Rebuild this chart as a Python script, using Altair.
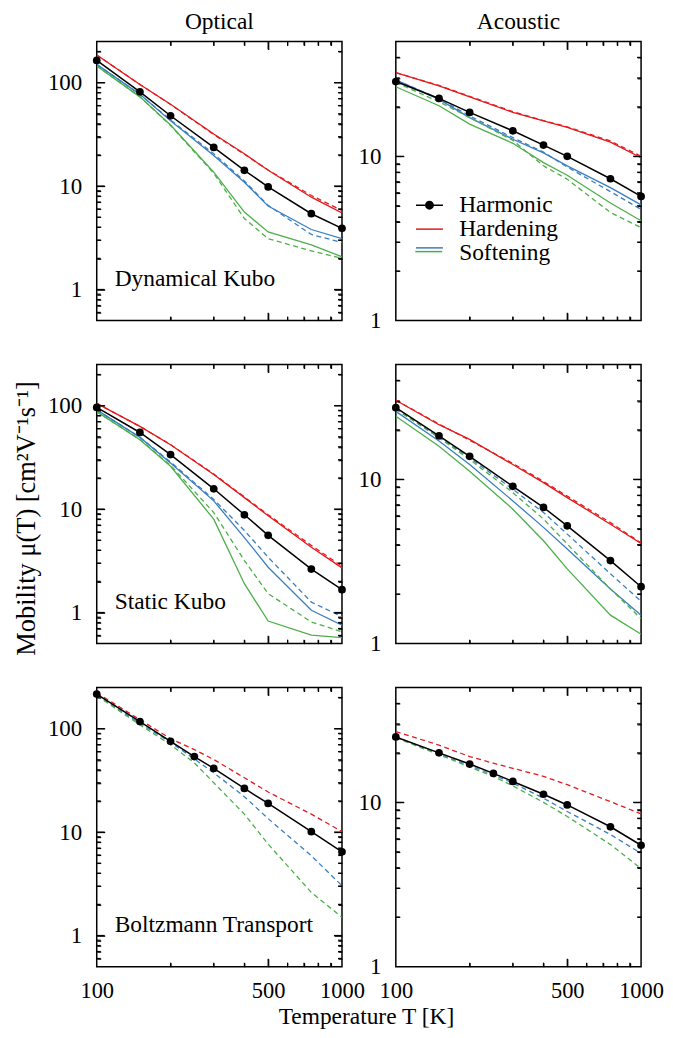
import altair as alt
import pandas as pd

FONT = "Liberation Serif"

T8 = [100, 150, 200, 300, 400, 500, 750, 1000]
T9 = [100, 150, 200, 250, 300, 400, 500, 750, 1000]

od_harm = [164, 81.4, 47.8, 23.6, 14.2, 9.8, 5.4, 3.9]
od_hard = [185, 96, 61.8, 31.8, 20.5, 14.2, 7.8, 5.5]
od_hard_d = [185, 96, 61.5, 31.5, 20.3, 14.3, 8.1, 5.8]
od_soft = [150, 77, 42.8, 19.7, 10.9, 6.4, 3.8, 3.1]
od_soft_d = [150, 77, 43.5, 20.5, 11.2, 6.5, 3.4, 2.85]
od_soft2 = [145, 72.8, 38.9, 13.6, 5.6, 3.6, 2.7, 2.07]
od_soft2_d = [145, 72.8, 38.5, 13.3, 4.85, 3.1, 2.36, 2.0]

ad_harm = [28.5, 22.5, 18.5, 14.3, 11.7, 10.0, 7.3, 5.7]
ad_hard = [32.3, 26.8, 23.0, 18.5, 16.4, 15.0, 12.2, 9.8]
ad_hard_d = [32.3, 27.0, 23.2, 18.7, 16.5, 15.1, 12.4, 10.0]
ad_soft = [29.2, 22.2, 17.2, 12.7, 10.5, 8.75, 6.45, 5.06]
ad_soft_d = [29.2, 22.4, 17.6, 13.0, 10.6, 8.6, 6.1, 4.75]
ad_soft2 = [26.5, 20.3, 15.7, 12.0, 9.15, 7.67, 5.2, 4.05]
ad_soft2_d = [28.1, 21.5, 17.2, 12.5, 8.75, 7.25, 4.55, 3.68]

os_harm = [96, 55, 33.6, 15.7, 8.8, 5.57, 2.63, 1.66]
os_hard = [105, 63, 41.9, 21.6, 12.9, 8.6, 4.27, 2.7]
os_hard_d = [105, 63, 42.0, 21.8, 13.1, 8.8, 4.45, 2.8]
os_soft = [90.9, 49.3, 27.9, 12.0, 5.3, 2.74, 1.05, 0.755]
os_soft_d = [90.9, 49.5, 28.5, 12.4, 6.2, 3.42, 1.26, 0.91]
os_soft2 = [87.5, 46.8, 25.9, 7.98, 1.9, 0.826, 0.605, 0.571]
os_soft2_d = [87.5, 47.0, 26.5, 9.25, 3.18, 1.52, 0.81, 0.65]

as_harm = [27.3, 18.4, 13.8, 9.07, 6.74, 5.21, 3.2, 2.22]
as_hard = [30.3, 21.5, 17.5, 12.3, 9.55, 7.74, 5.33, 4.07]
as_hard_d = [30.3, 21.7, 17.3, 12.5, 9.7, 7.9, 5.45, 4.1]
as_soft = [25.9, 17.1, 12.3, 7.39, 5.1, 3.77, 2.15, 1.49]
as_soft_d = [26.8, 18.0, 13.5, 8.7, 6.28, 4.64, 2.66, 1.81]
as_soft2 = [24.2, 15.9, 11.2, 6.58, 4.23, 2.85, 1.49, 1.14]
as_soft2_d = [26.8, 17.9, 13.2, 8.3, 5.73, 4.04, 2.15, 1.42]

ob_harm = [216, 117, 75.5, 53.7, 41.2, 26.4, 18.9, 10.1, 6.44]
ob_hard_d = [222, 122, 80, 62.8, 50.3, 33.5, 24.4, 14.9, 10.1]
ob_soft_d = [212, 112, 73.8, 51, 37.4, 22, 13.5, 5.9, 3.03]
ob_soft2_d = [208, 109, 70, 46.7, 30, 14.9, 7.64, 2.61, 1.5]

ab_harm = [25.0, 20.0, 17.1, 15.0, 13.4, 11.2, 9.64, 7.1, 5.48]
ab_hard_d = [26.9, 22.3, 19.0, 17.3, 16.1, 14.4, 12.8, 10.1, 8.5]
ab_soft_d = [25.0, 19.7, 16.7, 14.7, 13.1, 10.6, 8.8, 6.37, 4.89]
ab_soft2_d = [24.7, 19.5, 16.4, 14.4, 12.6, 10.0, 8.2, 5.54, 3.95]

SERIES = ["Harmonic", "Hardening", "Softening"]
COLORS = ["#000000", "#e41a1c", "#3a7ec2"]
GREEN = "#4daf4a"

X_MAJOR = [500]
X_MINOR = [200, 300, 400, 600, 700, 800, 900]
X_LABELS = [100, 500, 1000]
YL_DOMAIN = [0.5, 250]
YL_MAJOR = [1, 10, 100]
YL_MINOR = [0.6, 0.7, 0.8, 0.9, 2, 3, 4, 5, 6, 7, 8, 9, 20, 30, 40, 50, 60, 70, 80, 90, 200]
YR_DOMAIN = [1, 50]
YR_MAJOR = [10]
YR_MINOR = [2, 3, 4, 5, 6, 7, 8, 9, 20, 30, 40]
YR_LABELS = [1, 10]

W, H = 246, 280
MAJ, MIN = 8, 4


def long_df(T, d):
    rows = []
    for s, vals in d.items():
        for t, v in zip(T, vals):
            rows.append({"T": t, "mu": v, "series": s})
    return pd.DataFrame(rows)


P_H = ("M-1.35,0H1.35"
       "M0.37,0A0.37,0.37,0,1,1,-0.37,0A0.37,0.37,0,1,1,0.37,0"
       "M0.24,0A0.24,0.24,0,1,1,-0.24,0A0.24,0.24,0,1,1,0.24,0"
       "M0.11,0A0.11,0.11,0,1,1,-0.11,0A0.11,0.11,0,1,1,0.11,0")
SYM_EXPR = ("datum.value == 'Harmonic' ? '" + P_H + "' : "
            "datum.value == 'Softening' ? 'M-1.35,-0.52H1.35' : 'M-1.35,0H1.35'")

LEG_X, LEG_Y = 22, 152.5
LEGEND = alt.Legend(
    title=None, orient="none", legendX=LEG_X, legendY=LEG_Y, padding=0,
    rowPadding=-1, symbolSize=400, symbolStrokeWidth=1.5, symbolOffset=0,
    symbolType={"expr": SYM_EXPR},
    labelFont=FONT, labelFontSize=23.5, labelColor="black", labelOffset=18,
    labelLimit=0,
)
LEGEND_G = alt.Legend(
    title=None, orient="none", legendX=LEG_X - 3.5, legendY=196.3,
    padding=0, symbolSize=729, symbolStrokeWidth=1.5, symbolOffset=0,
    symbolType="stroke", labelExpr="''", labelFontSize=1,
)


def tick_axis(orient, values, size):
    return alt.Axis(orient=orient, values=values, labels=False, domain=False,
                    grid=False, ticks=True, tickColor="black", tickWidth=1.2,
                    tickSize=size, offset=-size, zindex=2, title=None)


def panel(T, harm, solid, dashed, ydom, ymaj, ymin, ylabels, label,
          xlabels=False, ytitle=None, title=None, legend=False):
    xs = alt.Scale(type="log", domain=[100, 1000], nice=False)
    ys = alt.Scale(type="log", domain=ydom, nice=False)
    cs = alt.Scale(domain=SERIES, range=COLORS)
    gs = alt.Scale(domain=["Softening2"], range=[GREEN])
    leg = LEGEND if legend else None
    legg = LEGEND_G if legend else None
    hdf = pd.DataFrame({"T": T, "mu": harm, "series": ["Harmonic"] * len(T)})

    def axis_layer(xax, yax):
        return alt.Chart(hdf).mark_point(opacity=0).encode(
            x=alt.X("T:Q", scale=xs, axis=xax),
            y=alt.Y("mu:Q", scale=ys, axis=yax),
        )

    xlab = alt.Axis(orient="bottom", values=X_LABELS, format="d", ticks=False,
                    tickSize=0, domain=False, grid=False, labels=xlabels,
                    labelPadding=13, labelFont=FONT, labelFontSize=22.5,
                    labelColor="black", labelFlush=False, labelOverlap=False,
                    title=None)
    ylab_kwargs = dict(orient="left", values=ylabels, format="d", ticks=False,
                       tickSize=0, domain=False, grid=False, labelPadding=15,
                       labelFont=FONT, labelFontSize=23, labelColor="black",
                       labelOverlap=False, labelFlush=False)
    if ytitle:
        ylab = alt.Axis(title=ytitle, titleFont=FONT, titleFontSize=26.5,
                        titleFontWeight="normal", titleColor="black",
                        titlePadding=7, titleY=154, **ylab_kwargs)
    else:
        ylab = alt.Axis(title=None, **ylab_kwargs)

    layers = [
        axis_layer(xlab, ylab),
        axis_layer(tick_axis("bottom", X_MAJOR, MAJ), tick_axis("left", ymaj, MAJ)),
        axis_layer(tick_axis("bottom", X_MINOR, MIN), tick_axis("left", ymin, MIN)),
        axis_layer(tick_axis("top", X_MAJOR, MAJ), tick_axis("right", ymaj, MAJ)),
        axis_layer(tick_axis("top", X_MINOR, MIN), tick_axis("right", ymin, MIN)),
    ]

    # inward tick marks drawn as rules positioned by the scales
    xs_enc = alt.X("T:Q", scale=xs, axis=None)
    ys_enc = alt.Y("mu:Q", scale=ys, axis=None)
    for vals, L in ((X_MAJOR, MAJ), (X_MINOR, MIN)):
        d = pd.DataFrame({"T": vals})
        layers.append(alt.Chart(d).mark_rule(color="black", strokeWidth=1.2).encode(
            x=xs_enc, y=alt.value(0), y2=alt.value(L)))
        layers.append(alt.Chart(d).mark_rule(color="black", strokeWidth=1.2).encode(
            x=xs_enc, y=alt.value(H - L), y2=alt.value(H)))
    for vals, L in ((ymaj, MAJ), (ymin, MIN)):
        d = pd.DataFrame({"mu": vals})
        layers.append(alt.Chart(d).mark_rule(color="black", strokeWidth=1.2).encode(
            y=ys_enc, x=alt.value(0), x2=alt.value(L)))
        layers.append(alt.Chart(d).mark_rule(color="black", strokeWidth=1.2).encode(
            y=ys_enc, x=alt.value(W - L), x2=alt.value(W)))

    def enc(green=False):
        e = dict(x=alt.X("T:Q", scale=xs, axis=None),
                 y=alt.Y("mu:Q", scale=ys, axis=None),
                 detail="series:N")
        if green:
            e["stroke"] = alt.Stroke("series:N", scale=gs, legend=legg)
        else:
            e["color"] = alt.Color("series:N", scale=cs, legend=leg)
        return e

    def split(d):
        rg = {k: v for k, v in d.items() if k != "Softening2"}
        g = {k: v for k, v in d.items() if k == "Softening2"}
        return rg, g

    if solid:
        rg, g = split(solid)
        layers.append(alt.Chart(long_df(T, rg)).mark_line(strokeWidth=1.3, clip=True).encode(**enc()))
        layers.append(alt.Chart(long_df(T, g)).mark_line(strokeWidth=1.3, clip=True).encode(**enc(True)))
    rg, g = split(dashed)
    layers.append(alt.Chart(long_df(T, rg)).mark_line(strokeWidth=1.3, strokeDash=[5, 3.5], clip=True).encode(**enc()))
    layers.append(alt.Chart(long_df(T, g)).mark_line(strokeWidth=1.3, strokeDash=[5, 3.5], clip=True).encode(**enc(True)))
    layers.append(alt.Chart(hdf).mark_line(strokeWidth=1.5,
                                           point=alt.OverlayMarkDef(filled=True, size=60, opacity=1)).encode(**enc()))
    if label:
        layers.append(alt.Chart(pd.DataFrame({"label": [label]})).mark_text(
            align="left", baseline="alphabetic", font=FONT, fontSize=23.5, color="black"
        ).encode(text="label:N", x=alt.value(18), y=alt.value(245)))

    ch = alt.layer(*layers).resolve_axis(x="independent", y="independent")
    props = dict(width=W, height=H)
    if title:
        props["title"] = alt.TitleParams(title, font=FONT, fontSize=23.5, fontWeight="normal",
                                         color="black", offset=7, frame="group", anchor="middle")
    return ch.properties(**props)


p1 = panel(T8, od_harm,
           {"Hardening": od_hard, "Softening": od_soft, "Softening2": od_soft2},
           {"Hardening": od_hard_d, "Softening": od_soft_d, "Softening2": od_soft2_d},
           YL_DOMAIN, YL_MAJOR, YL_MINOR, YL_MAJOR, "Dynamical Kubo", title="Optical")
p2 = panel(T8, ad_harm,
           {"Hardening": ad_hard, "Softening": ad_soft, "Softening2": ad_soft2},
           {"Hardening": ad_hard_d, "Softening": ad_soft_d, "Softening2": ad_soft2_d},
           YR_DOMAIN, YR_MAJOR, YR_MINOR, YR_LABELS, "", title="Acoustic", legend=True)
p3 = panel(T8, os_harm,
           {"Hardening": os_hard, "Softening": os_soft, "Softening2": os_soft2},
           {"Hardening": os_hard_d, "Softening": os_soft_d, "Softening2": os_soft2_d},
           YL_DOMAIN, YL_MAJOR, YL_MINOR, YL_MAJOR, "Static Kubo",
           ytitle="Mobility μ(T) [cm²V⁻¹s⁻¹]")
p4 = panel(T8, as_harm,
           {"Hardening": as_hard, "Softening": as_soft, "Softening2": as_soft2},
           {"Hardening": as_hard_d, "Softening": as_soft_d, "Softening2": as_soft2_d},
           YR_DOMAIN, YR_MAJOR, YR_MINOR, YR_LABELS, "")
p5 = panel(T9, ob_harm, None,
           {"Hardening": ob_hard_d, "Softening": ob_soft_d, "Softening2": ob_soft2_d},
           YL_DOMAIN, YL_MAJOR, YL_MINOR, YL_MAJOR, "Boltzmann Transport", xlabels=True)
p6 = panel(T9, ab_harm, None,
           {"Hardening": ab_hard_d, "Softening": ab_soft_d, "Softening2": ab_soft2_d},
           YR_DOMAIN, YR_MAJOR, YR_MINOR, YR_LABELS, "", xlabels=True)

chart = alt.concat(
    p1, p2, p3, p4, p5, p6, columns=2,
    spacing={"row": 44, "column": 54}, bounds="flush",
    title=alt.TitleParams("Temperature T [K]", orient="bottom", anchor="middle",
                          font=FONT, fontSize=23.5, fontWeight="normal",
                          color="black", offset=2, dx=28),
).resolve_scale(
    x="independent", y="independent", color="independent", stroke="independent"
).resolve_legend(color="independent", stroke="independent").properties(
    padding={"left": 4, "top": 0, "right": 0, "bottom": 0},
    background="white",
).configure_view(stroke="black", strokeWidth=1.5)

chart.save("out.html", embed_options={"renderer": "svg", "actions": False})
